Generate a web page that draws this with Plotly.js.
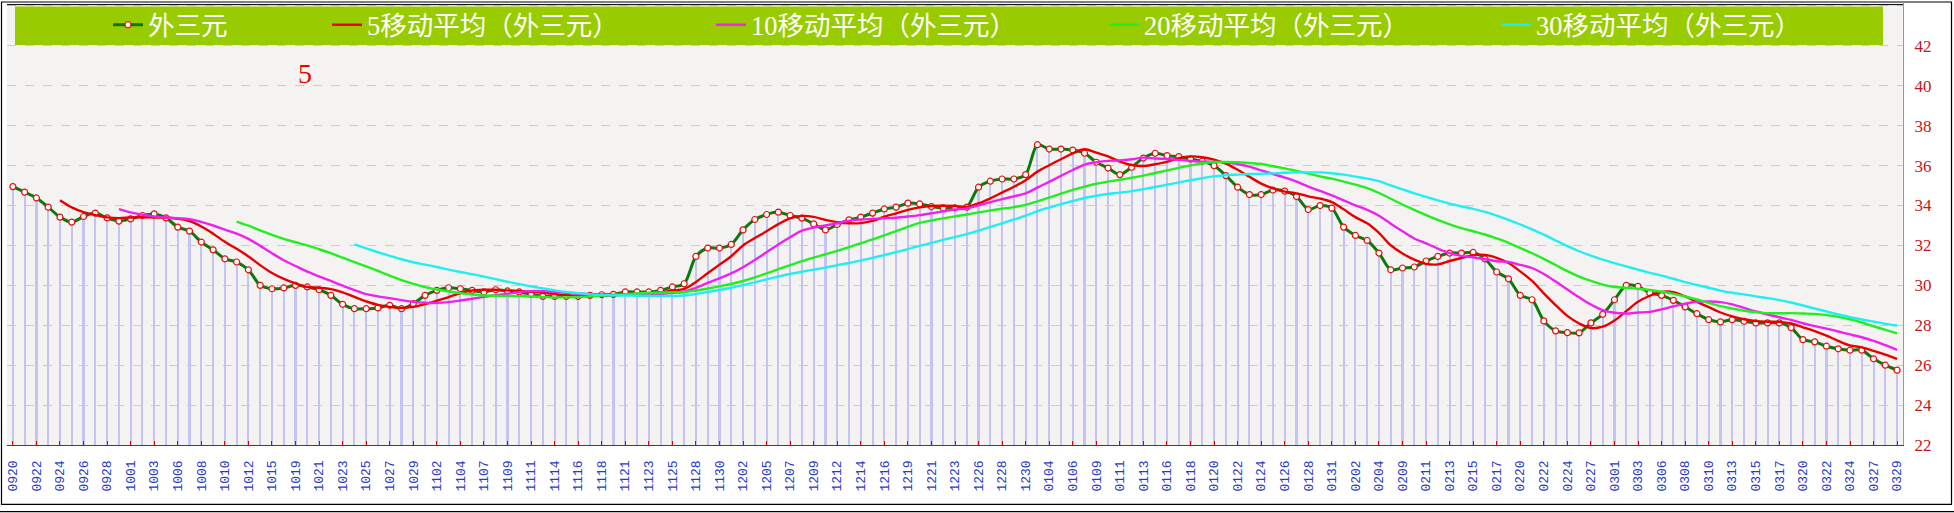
<!DOCTYPE html>
<html><head><meta charset="utf-8">
<script src="https://cdn.plot.ly/plotly-3.0.1.min.js"></script>
<style>html,body{margin:0;padding:0;background:#fff;}#chart{width:1954px;height:513px;}</style>
</head><body><div id="chart"></div>
<script>
// ---- data ----
const dates=["0920","0921","0922","0923","0924","0925","0926","0927","0928","0929",
"1001","1002","1003","1004","1006","1007","1008","1009","1010","1011",
"1012","1013","1015","1016","1019","1020","1021","1022","1023","1024",
"1025","1026","1027","1028","1029","1030","1102","1103","1104","1105",
"1107","1108","1109","1110","1111","1112","1114","1115","1116","1117",
"1118","1119","1121","1122","1123","1124","1125","1126","1128","1129",
"1130","1201","1202","1203","1205","1206","1207","1208","1209","1210",
"1212","1213","1214","1215","1216","1217","1219","1220","1221","1222",
"1223","1224","1226","1227","1228","1229","1230","1231","0104","0105",
"0106","0107","0109","0110","0111","0112","0113","0114","0116","0117",
"0118","0119","0120","0121","0122","0123","0124","0125","0126","0127",
"0128","0129","0131","0201","0202","0203","0204","0205","0209","0210",
"0211","0212","0213","0214","0215","0216","0217","0218","0220","0221",
"0222","0223","0224","0225","0227","0228","0301","0302","0303","0304",
"0306","0307","0308","0309","0310","0311","0313","0314","0315","0316",
"0317","0318","0320","0321","0322","0323","0324","0325","0327","0328",
"0329"];
const tickLabels=["0920","0922","0924","0926","0928","1001","1003","1006","1008","1010",
"1012","1015","1019","1021","1023","1025","1027","1029","1102","1104",
"1107","1109","1111","1114","1116","1118","1121","1123","1125","1128",
"1130","1202","1205","1207","1209","1212","1214","1216","1219","1221",
"1223","1226","1228","1230","0104","0106","0109","0111","0113","0116",
"0118","0120","0122","0124","0126","0128","0131","0202","0204","0209",
"0211","0213","0215","0217","0220","0222","0224","0227","0301","0303",
"0306","0308","0310","0313","0315","0317","0320","0322","0324","0327","0329"];
const waiSanYuan=[34.95,34.67,34.38,33.92,33.42,33.17,33.45,33.62,33.38,33.22,
33.33,33.50,33.58,33.38,32.92,32.72,32.17,31.78,31.33,31.17,
30.78,30.00,29.83,29.87,30.00,29.92,29.78,29.50,29.05,28.83,
28.83,28.87,29.00,28.83,29.08,29.50,29.75,29.88,29.83,29.75,
29.67,29.78,29.72,29.67,29.55,29.45,29.45,29.45,29.45,29.50,
29.53,29.55,29.67,29.67,29.67,29.75,29.92,30.08,31.45,31.87,
31.87,32.05,32.78,33.30,33.55,33.67,33.50,33.37,33.08,32.78,
33.05,33.28,33.42,33.62,33.83,33.92,34.12,34.08,33.95,33.88,
33.88,33.92,34.92,35.22,35.33,35.33,35.55,37.05,36.83,36.83,
36.78,36.62,36.17,35.88,35.55,35.92,36.38,36.62,36.50,36.45,
36.33,36.22,36.00,35.50,34.92,34.55,34.55,34.78,34.72,34.45,
33.80,34.00,33.87,32.92,32.50,32.25,31.62,30.78,30.87,30.92,
31.22,31.45,31.62,31.62,31.65,31.33,30.67,30.33,29.50,29.28,
28.22,27.72,27.63,27.62,28.12,28.55,29.28,30.00,29.95,29.62,
29.50,29.25,28.92,28.58,28.28,28.17,28.28,28.20,28.12,28.12,
28.12,27.88,27.28,27.17,26.95,26.82,26.75,26.75,26.32,26.00,25.75];
// 5-day moving average, starts at dates[4]
const ma5=[34.27,33.91,33.67,33.52,33.41,33.37,33.40,33.41,33.40,33.40,33.34,33.22,32.95,32.59,32.18,31.83,31.45,31.01,30.62,30.33,30.10,29.92,29.88,29.81,29.65,29.42,29.20,29.02,28.92,28.87,
28.92,29.06,29.23,29.41,29.61,29.74,29.78,29.78,29.75,29.72,29.68,29.63,29.57,29.51,29.47,29.46,29.48,29.50,29.54,29.58,29.62,29.66,29.74,29.82,30.17,30.61,31.04,31.46,32.00,32.37,
32.71,33.07,33.36,33.48,33.43,33.28,33.16,33.11,33.12,33.23,33.44,33.61,33.78,33.91,33.98,33.99,33.98,33.94,34.11,34.36,34.65,34.94,35.27,35.70,36.02,36.32,36.61,36.82,36.65,36.46,
36.20,36.03,35.98,36.07,36.19,36.37,36.46,36.42,36.30,36.10,35.79,35.44,35.10,34.86,34.70,34.61,34.46,34.35,34.17,33.81,33.42,33.11,32.63,32.01,31.60,31.29,31.08,31.05,31.22,31.37,
31.51,31.53,31.38,31.12,30.70,30.22,29.60,29.01,28.47,28.09,27.86,27.93,28.24,28.71,29.18,29.48,29.67,29.66,29.45,29.17,28.91,28.64,28.45,28.30,28.21,28.18,28.17,28.09,27.90,27.71,
27.48,27.22,26.99,26.89,26.72,26.53,26.31];
// 10-day moving average, starts at dates[9]
const ma10=[33.82,33.66,33.54,33.46,33.40,33.36,33.31,33.18,33.00,32.79,32.59,32.33,31.98,31.61,31.26,30.97,30.69,30.45,30.22,29.99,29.76,29.56,29.45,29.36,29.26,29.17,29.13,29.12,29.16,29.24,
29.33,29.42,29.51,29.58,29.66,29.71,29.71,29.68,29.63,29.59,29.57,29.55,29.53,29.53,29.53,29.54,29.57,29.62,29.68,29.88,30.12,30.35,30.60,30.91,31.27,31.66,32.05,32.41,32.74,32.90,
33.00,33.11,33.24,33.30,33.33,33.36,33.39,33.45,33.52,33.61,33.71,33.80,33.86,34.01,34.17,34.32,34.46,34.61,34.90,35.19,35.49,35.78,36.05,36.17,36.24,36.26,36.32,36.40,36.36,36.33,
36.29,36.24,36.20,36.19,36.15,36.08,35.95,35.76,35.58,35.40,35.20,34.95,34.73,34.51,34.26,34.01,33.78,33.49,33.09,32.71,32.35,32.10,31.84,31.62,31.48,31.40,31.31,31.21,31.17,31.03,
30.87,30.57,30.19,29.79,29.40,29.04,28.76,28.63,28.59,28.64,28.67,28.80,28.95,29.08,29.18,29.19,29.16,29.05,28.87,28.69,28.54,28.40,28.27,28.10,27.96,27.83,27.69,27.54,27.40,27.22,
27.00,26.77];
// 20-day moving average, starts at dates[19]
const ma20=[33.20,32.99,32.76,32.53,32.33,32.16,32.00,31.81,31.61,31.39,31.17,30.95,30.72,30.49,30.26,30.07,29.91,29.79,29.69,29.61,29.54,29.49,29.48,29.47,29.46,29.44,29.42,29.40,29.40,29.42,
29.45,29.49,29.52,29.55,29.59,29.62,29.64,29.65,29.66,29.74,29.84,29.95,30.07,30.22,30.40,30.60,30.81,31.01,31.21,31.39,31.56,31.73,31.92,32.11,32.30,32.51,32.72,32.93,33.13,33.25,
33.36,33.46,33.55,33.66,33.75,33.84,33.92,34.03,34.21,34.40,34.60,34.79,34.95,35.09,35.20,35.29,35.39,35.50,35.63,35.76,35.89,36.01,36.12,36.18,36.19,36.17,36.13,36.08,35.97,35.86,
35.74,35.60,35.46,35.35,35.20,35.05,34.87,34.63,34.34,34.05,33.78,33.52,33.28,33.06,32.87,32.71,32.55,32.35,32.13,31.87,31.61,31.33,31.02,30.71,30.44,30.22,30.04,29.92,29.88,29.83,
29.77,29.68,29.57,29.44,29.29,29.12,28.96,28.84,28.73,28.66,28.61,28.60,28.61,28.59,28.57,28.51,28.42,28.30,28.14,27.95,27.77,27.59];
// 30-day moving average, starts at dates[29]
const ma30=[32.05,31.85,31.66,31.48,31.31,31.16,31.04,30.92,30.79,30.67,30.56,30.44,30.31,30.18,30.06,29.95,29.84,29.75,29.67,29.61,29.55,29.51,29.50,29.49,29.48,29.47,29.47,29.47,29.49,29.57,
29.67,29.77,29.88,30.01,30.15,30.30,30.44,30.57,30.68,30.79,30.89,31.01,31.12,31.25,31.38,31.52,31.67,31.82,31.98,32.13,32.28,32.42,32.57,32.74,32.93,33.11,33.30,33.49,33.72,33.90,
34.07,34.23,34.38,34.49,34.58,34.65,34.72,34.82,34.93,35.04,35.16,35.27,35.37,35.46,35.52,35.55,35.58,35.59,35.61,35.64,35.66,35.66,35.66,35.62,35.55,35.45,35.35,35.22,35.01,34.81,
34.61,34.43,34.26,34.10,33.96,33.83,33.68,33.49,33.28,33.05,32.81,32.54,32.25,31.97,31.71,31.49,31.29,31.11,30.95,30.79,30.63,30.49,30.33,30.16,30.02,29.88,29.74,29.63,29.55,29.45,
29.36,29.26,29.14,28.99,28.84,28.69,28.54,28.41,28.29,28.18,28.07,27.99];
const seriesNames=["外三元","5移动平均（外三元）","10移动平均（外三元）","20移动平均（外三元）","30移动平均（外三元）"];

// ---- geometry helpers (pixel -> paper) ----
const W=1954,H=513,ML=7,MR=51,MT=2,MB=68;
const PW=W-ML-MR, PH=H-MT-MB;
const px=x=>(x-ML)/PW, py=y=>(H-MB-y)/PH;

const legFont={family:'"Liberation Serif","Noto Sans CJK SC",serif',size:26.5,color:'#ffffff'};
function leg(textX){return {orientation:'h',x:px(textX-40),xanchor:'left',y:py(25),yanchor:'middle',
  bgcolor:'rgba(0,0,0,0)',borderwidth:0,font:legFont,itemclick:false,itemdoubleclick:false};}

const traces=[
 {type:'bar',x:dates,y:waiSanYuan,width:0.18,marker:{color:'#c3c3f4',line:{width:0}},showlegend:false,hoverinfo:'skip'},
 {type:'scatter',mode:'lines+markers',name:seriesNames[0],x:dates,y:waiSanYuan,legend:'legend',
  line:{color:'#0a7a0a',width:3,shape:'spline',smoothing:0.8},
  marker:{symbol:'circle',size:6,color:'#ffffff',line:{color:'#e01010',width:1.2}}},
 {type:'scatter',mode:'lines',name:seriesNames[1],x:dates.slice(4),y:ma5,legend:'legend2',
  line:{color:'#e80000',width:2.4,shape:'spline',smoothing:1}},
 {type:'scatter',mode:'lines',name:seriesNames[2],x:dates.slice(9),y:ma10,legend:'legend3',
  line:{color:'#ee22ee',width:2.4,shape:'spline',smoothing:1}},
 {type:'scatter',mode:'lines',name:seriesNames[3],x:dates.slice(19),y:ma20,legend:'legend4',
  line:{color:'#22ee22',width:2.4,shape:'spline',smoothing:1}},
 {type:'scatter',mode:'lines',name:seriesNames[4],x:dates.slice(29),y:ma30,legend:'legend5',
  line:{color:'#22eef2',width:2.4,shape:'spline',smoothing:1}}
];

const layout={
 width:W,height:H,margin:{l:ML,r:MR,t:MT,b:MB,pad:0},
 paper_bgcolor:'#ffffff',plot_bgcolor:'#f4f3f2',
 showlegend:true,bargap:0,
 xaxis:{type:'category',categoryorder:'array',categoryarray:dates,range:[-0.5,dates.length-0.5],
  tickmode:'array',tickvals:tickLabels,ticktext:tickLabels,tickangle:-90,
  tickfont:{family:'"Liberation Mono","DejaVu Sans Mono",monospace',size:13,color:'#2a3cc0'},
  ticks:'inside',ticklen:4,tickcolor:'#e00000',tickwidth:1,ticklabelstandoff:9,
  showline:true,linecolor:'#e00000',linewidth:1.2,showgrid:false,zeroline:false,fixedrange:true},
 yaxis:{range:[22,44.15],side:'right',dtick:2,tick0:22,
  tickfont:{family:'"Liberation Serif","DejaVu Serif",serif',size:17,color:'#c4161c'},
  ticks:'',ticklabelstandoff:7,showline:true,linecolor:'#9a9a9a',linewidth:1.2,
  showgrid:true,gridcolor:'#c6c6ee',griddash:'dash',gridwidth:1,zeroline:false,fixedrange:true},
 yaxis2:{overlaying:'y',side:'left',matches:'y',range:[22,44.15],dtick:2,tick0:22,showticklabels:false,
  ticks:'inside',ticklen:6,tickcolor:'#000',showline:true,linecolor:'#000',linewidth:1.2,showgrid:false,zeroline:false},
 legend:leg(148),legend2:leg(367),legend3:leg(751),legend4:leg(1144),legend5:leg(1536),
 shapes:[
  {type:'rect',xref:'paper',yref:'paper',x0:px(15),x1:px(1883),y0:py(44),y1:py(5.5),fillcolor:'#99cc00',line:{width:0},layer:'above'},
  {type:'line',xref:'paper',yref:'paper',x0:px(7),x1:px(1903),y0:py(3.6),y1:py(3.6),line:{color:'#000',width:1}},
  {type:'rect',xref:'paper',yref:'paper',x0:px(1.5),x1:px(1951.5),y0:py(504.5),y1:py(1),line:{color:'#000',width:1.2},fillcolor:'rgba(0,0,0,0)'},
  {type:'line',xref:'paper',yref:'paper',x0:px(0),x1:px(1954),y0:py(511.8),y1:py(511.8),line:{color:'#000',width:1.2}}
 ],
 annotations:[
  {xref:'paper',yref:'paper',x:px(305),y:py(73),text:'5',showarrow:false,xanchor:'center',yanchor:'middle',
   font:{family:'"Liberation Serif","DejaVu Serif",serif',size:28,color:'#ee0000'}}
 ]
};
Plotly.newPlot('chart',traces,layout,{displayModeBar:false,staticPlot:true});
</script></body></html>
